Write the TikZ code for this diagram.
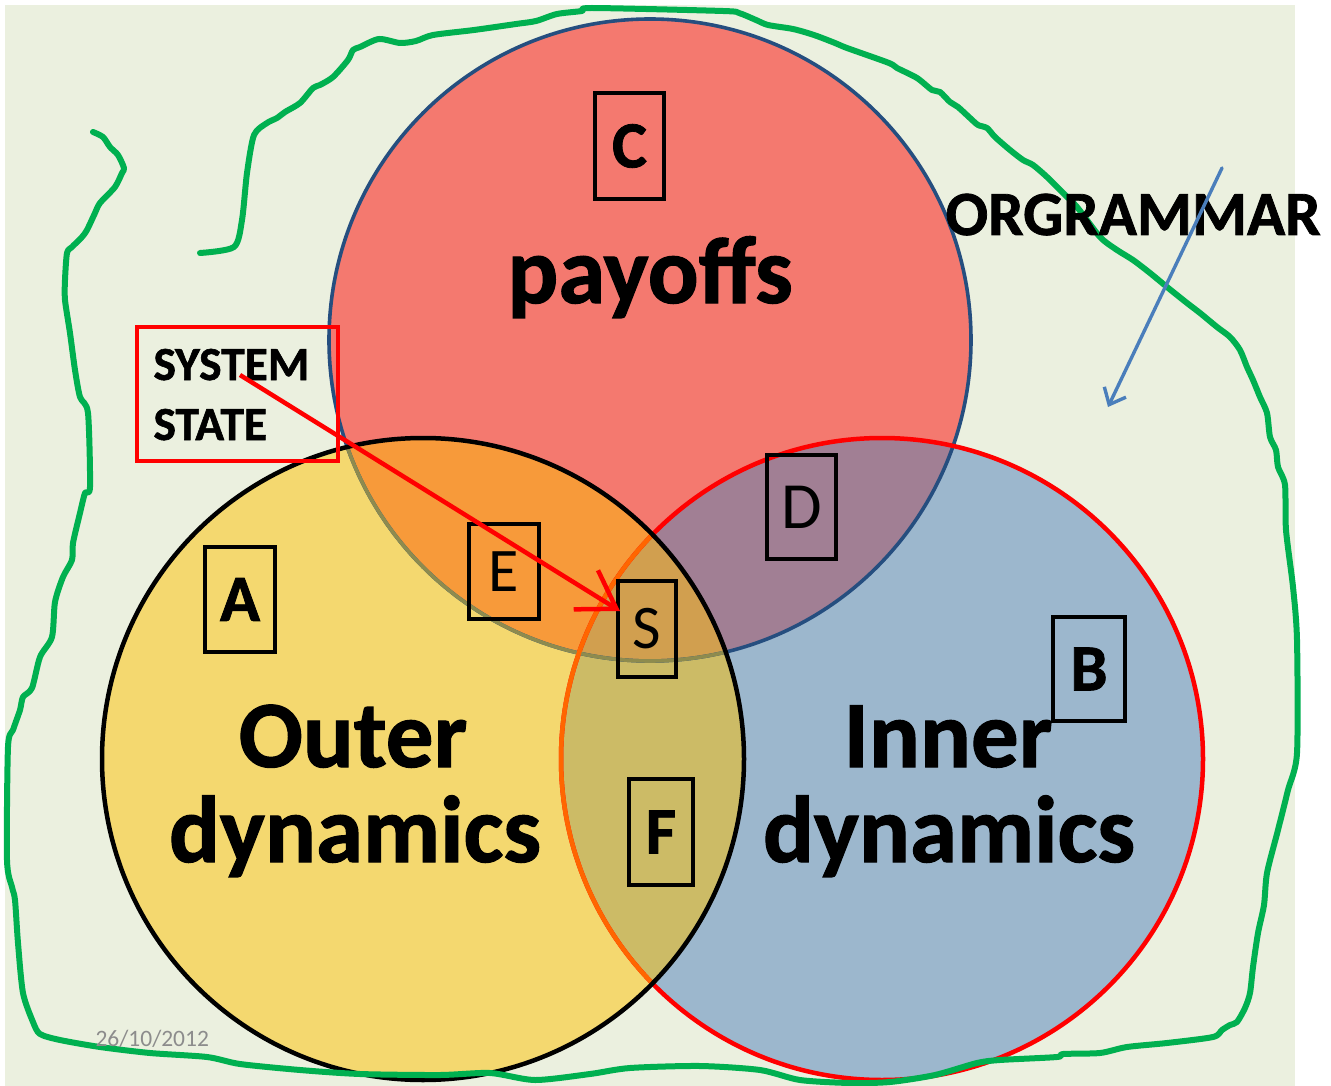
\documentclass[tikz,border=0pt]{standalone}
\usepackage{fontspec}
\setmainfont{Carlito}
\newfontfamily\heavyfont{Carlito Bold}[FakeBold=1.2]
\usetikzlibrary{arrows.meta}
\definecolor{bgc}{HTML}{EBF0DF}
\definecolor{payc}{HTML}{F4796F}
\definecolor{yelc}{HTML}{F4D86F}
\definecolor{bluc}{HTML}{9CB7CD}
\definecolor{regE}{HTML}{F79A3A}
\definecolor{regD}{HTML}{A17F94}
\definecolor{regF}{HTML}{CCBB66}
\definecolor{regS}{HTML}{D19F4F}
\definecolor{paystroke}{HTML}{254E7F}
\definecolor{olivestroke}{HTML}{8E8B4E}
\definecolor{orangestroke}{HTML}{FF6600}
\definecolor{greenline}{HTML}{00B050}
\definecolor{bluearrow}{HTML}{4A7EBB}
\definecolor{dategray}{HTML}{8C8C8C}
\begin{document}
\begin{tikzpicture}[x=1pt,y=-1pt,
  lbox/.style={draw=black, line width=4.5pt, inner sep=0pt, text=black},
  bigword/.style={anchor=base, font=\heavyfont\fontsize{95}{100}\selectfont},
  freehand/.style={draw=greenline, line width=6pt, line cap=round, line join=round},
]
\useasboundingbox (0,0) rectangle (1331,1086);
\fill[bgc] (5,5) rectangle (1295,1086);
\coordinate (P) at (650,340);
\coordinate (A) at (423,759);
\coordinate (B) at (882,759);
% fills
\fill[payc] (P) circle[radius=321pt];
\fill[yelc] (A) circle[radius=321pt];
\fill[bluc] (B) circle[radius=321pt];
\begin{scope}\clip (P) circle[radius=321pt]; \fill[regE] (A) circle[radius=321pt];\end{scope}
\begin{scope}\clip (P) circle[radius=321pt]; \fill[regD] (B) circle[radius=321pt];\end{scope}
\begin{scope}\clip (A) circle[radius=321pt]; \fill[regF] (B) circle[radius=321pt];\end{scope}
\begin{scope}\clip (P) circle[radius=321pt]; \clip (A) circle[radius=321pt]; \fill[regS] (B) circle[radius=321pt];\end{scope}
% outlines
\draw[paystroke, line width=3.6pt] (P) circle[radius=321pt];
\draw[red, line width=4.5pt] (B) circle[radius=321pt];
\begin{scope}\clip (A) circle[radius=321pt];
  \draw[olivestroke, line width=3.6pt] (P) circle[radius=321pt];
  \draw[orangestroke, line width=4.5pt] (B) circle[radius=321pt];
\end{scope}
\draw[black, line width=4.5pt] (A) circle[radius=321pt];
% green freehand loop
\draw[freehand] plot[smooth, tension=0.45] coordinates {
(93,132) (103,137) (110,147) (118,155) (124,168) (122,173) (115,187) (100,203) (95,213) (87,230) (82,237) (72,247) (67,253) (65,280) (65,300) (70,333) (75,370) (80,397) (88,413) (90,487) (85,493) (80,513) (73,543) (72,560) (63,577) (55,602) (52,637) (40,657) (32,688) (23,697) (20,710) (13,730) (8,747) (7,860) (12,887) (15,900) (18,943) (23,993) (33,1022) (40,1034) (60,1040) (100,1047) (150,1053) (207,1057) (240,1064) (300,1070) (360,1074) (440,1075) (490,1073) (535,1080) (590,1074) (630,1068) (700,1066) (760,1070) (800,1080) (850,1083) (890,1082) (935,1075) (977,1063) (1000,1060) (1057,1057) (1063,1054) (1100,1053) (1127,1047) (1167,1043) (1213,1037) (1222,1030) (1230,1025) (1237,1022) (1245,1008) (1250,993) (1253,967) (1258,933) (1264,905) (1267,873) (1278,830) (1288,790) (1297,753) (1297,640) (1293,587) (1286,530) (1285,485) (1278,467) (1276,450) (1270,437) (1267,413) (1260,397) (1253,380) (1247,367) (1240,350) (1230,337) (1217,327) (1200,313) (1187,303) (1167,287) (1150,273) (1133,260) (1117,250) (1100,237) (1077,207) (1063,193) (1047,177) (1033,165) (1023,160) (1010,150) (995,137) (987,128) (978,125) (970,118) (958,107) (950,102) (940,92) (932,90) (917,78) (897,68) (889,63) (847,48) (835,43) (814,35) (793,29) (768,25) (756,20) (739,13) (723,11) (592,8) (582,11) (557,14) (536,21) (516,24) (474,30) (433,35) (416,41) (400,43) (379,39) (360,47) (353,50) (348,60) (333,77) (320,85) (313,88) (300,103) (285,112) (277,118) (267,123) (254,135) (247,173) (242,220) (234,247) (200,253)};
% big words
\node[bigword] (payoffs) at (650,303) {payoffs};
\node[bigword] (outer) at (353,767) {Outer};
\node[bigword] (outerdyn) at (355,862) {dynamics};
\node[bigword] (inner) at (948,767) {Inner};
\node[bigword] (innerdyn) at (949,862) {dynamics};
\node[anchor=base west, font=\heavyfont\fontsize{63}{66}\selectfont] (orgrammar) at (942,235) {ORGRAMMAR};
% letter boxes
\node[lbox, minimum width=69pt, minimum height=106pt, font=\heavyfont\fontsize{66}{68}\selectfont] (boxC) at (629.5,146) {C};
\node[lbox, minimum width=70pt, minimum height=105pt, font=\heavyfont\fontsize{66}{68}\selectfont] (boxA) at (240,599.5) {A};
\node[lbox, minimum width=72pt, minimum height=104pt, font=\heavyfont\fontsize{66}{68}\selectfont] (boxB) at (1089,669) {B};
\node[lbox, minimum width=69pt, minimum height=104pt, font=\fontsize{66}{68}\selectfont] (boxD) at (801.5,507) {D};
\node[lbox, minimum width=70pt, minimum height=95pt, font=\fontsize{62}{64}\selectfont] (boxE) at (504,571.5) {E};
\node[lbox, minimum width=58pt, minimum height=96pt, font=\fontsize{62}{64}\selectfont] (boxS) at (647,629) {S};
\node[lbox, minimum width=64pt, minimum height=106pt, font=\heavyfont\fontsize{66}{68}\selectfont] (boxF) at (661,832) {F};
% system state
\node[draw=red, line width=4.8pt, minimum width=201pt, minimum height=134pt, inner sep=0pt] (sysbox) at (237.5,394) {};
\node[anchor=base west, font=\heavyfont\fontsize{47.5}{50}\selectfont] (sys1) at (150,380) {SYSTEM};
\node[anchor=base west, font=\heavyfont\fontsize{47.5}{50}\selectfont] (sys2) at (150,440) {STATE};
% date
\node[anchor=base west, text=dategray, font=\fontsize{23.5}{26}\selectfont] (date) at (92,1046) {26/10/2012};
% arrows
\coordinate (bluestart) at (1222,168);
\coordinate (blueend) at (1108,407);
\draw[bluearrow, line width=3.4pt, line cap=round, -{Straight Barb[length=14pt, width=24pt, line width=3.4pt]}] (bluestart) -- (blueend);
\coordinate (redstart) at (240,375);
\coordinate (redend) at (620,611);
\draw[red, line width=4.5pt, -{Straight Barb[length=36pt, width=46pt, line width=4.5pt]}] (redstart) -- (redend);
\end{tikzpicture}
\end{document}
